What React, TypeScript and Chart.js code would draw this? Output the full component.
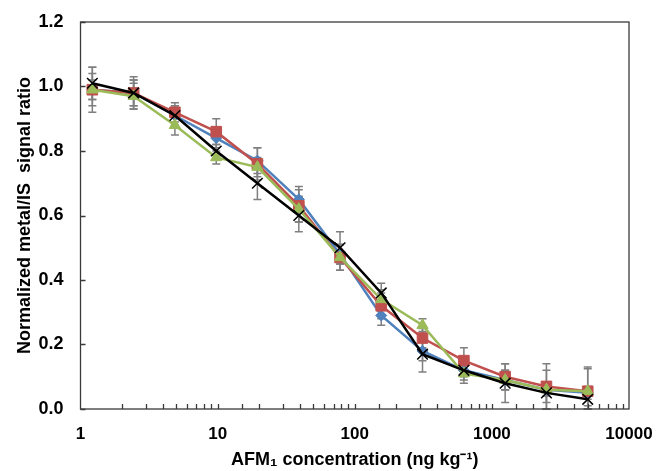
import React, { useEffect, useRef } from "react";
import { Chart, registerables } from "chart.js";

Chart.register(...registerables);

const concentrations = [1.22, 2.44, 4.88, 9.77, 19.5, 39.1, 78.1, 156, 312, 625, 1250, 2500, 5000];

const blueValues = [0.99, 0.98, 0.91, 0.84, 0.77, 0.65, 0.48, 0.29, 0.18, 0.12, 0.09, 0.06, 0.05];
const redValues = [0.99, 0.98, 0.92, 0.86, 0.76, 0.63, 0.47, 0.32, 0.22, 0.15, 0.10, 0.07, 0.055];
const greenValues = [0.99, 0.97, 0.88, 0.78, 0.75, 0.62, 0.47, 0.34, 0.26, 0.11, 0.09, 0.06, 0.055];
const blackValues = [1.01, 0.98, 0.91, 0.80, 0.70, 0.60, 0.50, 0.36, 0.17, 0.12, 0.08, 0.05, 0.03];

const blueErrors = [0.07, 0.04, 0.03, 0.03, 0.04, 0.04, 0.03, 0.03, 0.03, 0.02, 0.03, 0.02, 0.02];
const redErrors = [0.03, 0.04, 0.03, 0.04, 0.05, 0.05, 0.04, 0.04, 0.03, 0.04, 0.04, 0.07, 0.07];
const greenErrors = [0.05, 0.04, 0.03, 0.02, 0.03, 0.04, 0.04, 0.03, 0.02, 0.03, 0.03, 0.06, 0.075];
const blackErrors = [0.05, 0.05, 0.03, 0.02, 0.05, 0.05, 0.05, 0.03, 0.055, 0.03, 0.06, 0.03, 0.02];

const yTickValues = [0, 0.2, 0.4, 0.6, 0.8, 1.0, 1.2];
const xDecadeLabels = ["1", "10", "100", "1000", "10000"];

const yTitle = "Normalized metal/IS  signal ratio";
const xTitle = "AFM\u2081 concentration (ng kg\u207B\u00B9)";

const FONT = "'Liberation Sans', Arial, sans-serif";

const toPoints = (vals: number[]) => vals.map((v, i) => ({ x: concentrations[i], y: v }));

const errorBarPlugin = {
  id: "errorBars",
  beforeDatasetsDraw(chart: any) {
    const { ctx } = chart;
    const xs = chart.scales.x;
    const ys = chart.scales.y;
    ctx.save();
    ctx.strokeStyle = "#7f7f7f";
    ctx.lineWidth = 1.5;
    chart.data.datasets.forEach((ds: any) => {
      const errs: number[] = ds.errors || [];
      ds.data.forEach((p: any, i: number) => {
        const e = errs[i];
        if (e == null) return;
        const px = xs.getPixelForValue(p.x);
        const top = ys.getPixelForValue(p.y + e);
        const bot = ys.getPixelForValue(Math.max(0, p.y - e));
        ctx.beginPath();
        ctx.moveTo(px, top);
        ctx.lineTo(px, bot);
        ctx.moveTo(px - 4, top);
        ctx.lineTo(px + 4, top);
        ctx.moveTo(px - 4, bot);
        ctx.lineTo(px + 4, bot);
        ctx.stroke();
      });
    });
    ctx.restore();
  },
};

const framePlugin = {
  id: "frameTicks",
  afterDraw(chart: any) {
    const { ctx, chartArea } = chart;
    const xs = chart.scales.x;
    const ys = chart.scales.y;
    ctx.save();
    ctx.strokeStyle = "#3a3a3a";
    ctx.lineWidth = 1.3;
    ctx.beginPath();
    ys.ticks.forEach((t: any) => {
      const py = Math.round(ys.getPixelForValue(t.value)) + 0.5;
      ctx.moveTo(chartArea.left, py);
      ctx.lineTo(chartArea.left + 5, py);
    });
    xs.ticks.forEach((t: any) => {
      const px = Math.round(xs.getPixelForValue(t.value)) + 0.5;
      if (px <= chartArea.left + 1 || px >= chartArea.right - 1) return;
      ctx.moveTo(px, chartArea.bottom);
      ctx.lineTo(px, chartArea.bottom - 5);
    });
    ctx.stroke();
    ctx.strokeRect(chartArea.left, chartArea.top, chartArea.right - chartArea.left, chartArea.bottom - chartArea.top);
    ctx.restore();
  },
};

export default function App() {
  const ref = useRef<HTMLCanvasElement | null>(null);

  useEffect(() => {
    document.body.style.margin = "0";
    if (!ref.current) return;
    const mk = (label: string, vals: number[], errs: number[], color: string, style: any, radius: number, order: number) => ({
      label,
      data: toPoints(vals),
      errors: errs,
      borderColor: color,
      backgroundColor: color,
      pointBorderColor: color,
      pointBackgroundColor: color,
      borderWidth: 2.5,
      pointStyle: style,
      pointRadius: radius,
      pointBorderWidth: style === "crossRot" ? 1.5 : 1,
      tension: 0,
      order,
    });
    const chart = new Chart(ref.current, {
      type: "line",
      data: {
        datasets: [
          mk("Series 1", blueValues, blueErrors, "#4F81BD", "rectRot", 5.5, 4),
          mk("Series 2", redValues, redErrors, "#C0504D", "rect", 7.5, 3),
          mk("Series 3", greenValues, greenErrors, "#9BBB59", "triangle", 6.5, 2),
          mk("Series 4", blackValues, blackErrors, "#000000", "crossRot", 7.5, 1),
        ] as any,
      },
      options: {
        animation: false,
        responsive: false,
        layout: { padding: { top: 22, right: 32, left: 0, bottom: 0 } },
        plugins: { legend: { display: false }, tooltip: { enabled: false } },
        scales: {
          x: {
            type: "logarithmic",
            min: 1,
            max: 10000,
            grid: { display: false, drawTicks: false },
            border: { display: false },
            afterFit: (s: any) => {
              s.height = 62;
              s.paddingLeft = 0;
              s.paddingRight = 0;
            },
            ticks: {
              autoSkip: false,
              maxRotation: 0,
              padding: 15,
              color: "#000",
              font: { family: FONT, size: 17, weight: "bold" },
              callback: (v: any) => {
                const l = Math.log10(Number(v));
                if (Math.abs(l - Math.round(l)) < 1e-9) {
                  return xDecadeLabels[Math.round(l)] ?? String(v);
                }
                return "";
              },
            },
            title: {
              display: true,
              text: xTitle,
              color: "#000",
              font: { family: FONT, size: 18, weight: "bold" },
              padding: { top: 0, bottom: 0 },
            },
          } as any,
          y: {
            min: 0,
            max: 1.2,
            grid: { display: false, drawTicks: false },
            border: { display: false },
            afterFit: (s: any) => {
              s.width = 80.5;
              s.paddingTop = 0;
              s.paddingBottom = 0;
            },
            afterBuildTicks: (s: any) => {
              s.ticks = yTickValues.map((v) => ({ value: v }));
            },
            ticks: {
              padding: 17,
              color: "#000",
              font: { family: FONT, size: 18, weight: "bold" },
              callback: (v: any) => Number(v).toFixed(1),
            },
            title: {
              display: true,
              text: yTitle,
              color: "#000",
              font: { family: FONT, size: 18, weight: "bold" },
              padding: { top: 14, bottom: 0 },
            },
          } as any,
        },
      },
      plugins: [errorBarPlugin, framePlugin],
    });
    return () => chart.destroy();
  }, []);

  return (
    <canvas
      ref={ref}
      width={661}
      height={471}
      style={{ display: "block", position: "absolute", left: 0, top: 0, width: 661, height: 471 }}
    />
  );
}
